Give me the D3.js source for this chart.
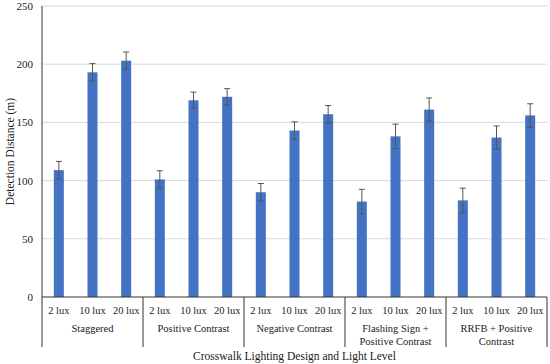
<!DOCTYPE html>
<html>
<head>
<meta charset="utf-8">
<script src="https://cdn.jsdelivr.net/npm/d3@7"></script>
<style>
body { margin: 0; background: #fff; }
svg, text, tspan { font-family: "Liberation Serif", "Times New Roman", serif; }
text { fill: #222; }
</style>
</head>
<body>
<svg id="vis" width="550" height="364"></svg>
<script>
var groups = [["Staggered"], ["Positive Contrast"], ["Negative Contrast"], ["Flashing Sign +", "Positive Contrast"], ["RRFB + Positive", "Contrast"]];
var levels = ["2 lux", "10 lux", "20 lux"];
var means = [
	[109, 193, 203],
	[101, 169, 172],
	[90, 143, 157],
	[82, 138, 161],
	[83, 137, 156]
];
var errs = [
	[7.5, 7.5, 7.5],
	[7.5, 7, 7],
	[7.5, 7.5, 7.5],
	[10.5, 10.5, 10],
	[10.5, 10, 10]
];
var yTicks = [0, 50, 100, 150, 200, 250];

var svg = d3.select("#vis");
var plotLeft = 42, plotRight = 547, plotTop = 6, plotBottom = 297, axisEnd = 347;

var x0 = d3.scaleBand().domain(d3.range(groups.length)).range([plotLeft, plotRight]);
var x1 = d3.scaleBand().domain(levels).range([0, x0.bandwidth()]);
var y = d3.scaleLinear().domain([0, 250]).range([plotBottom, plotTop]);
var barW = 10;

// gridlines
svg.selectAll("line.grid")
	.data(yTicks.slice(1))
	.enter()
	.append("line")
	.attr("x1", plotLeft).attr("x2", plotRight)
	.attr("y1", d => y(d)).attr("y2", d => y(d))
	.style("stroke", "#d9d9d9");

// y tick labels
svg.selectAll("text.ytick")
	.data(yTicks)
	.enter()
	.append("text")
	.attr("x", plotLeft - 9)
	.attr("y", d => y(d) + 4)
	.attr("text-anchor", "end")
	.style("font-size", "11px")
	.text(d => d);

var flat = [];
means.forEach((row, g) => row.forEach((v, i) => flat.push({g: g, lvl: levels[i], v: v, e: errs[g][i]})));
var cx = d => x0(d.g) + x1(d.lvl) + x1.bandwidth() / 2;

svg.selectAll("rect.bar")
	.data(flat)
	.enter()
	.append("rect")
	.attr("x", d => cx(d) - barW / 2)
	.attr("y", d => y(d.v))
	.attr("width", barW)
	.attr("height", d => y(0) - y(d.v))
	.style("fill", "#4472c4");

// error bars
var eb = svg.selectAll("g.err").data(flat).enter().append("g")
	.attr("transform", d => "translate(" + cx(d) + ",0)");
eb.append("line")
	.attr("y1", d => y(d.v + d.e)).attr("y2", d => y(d.v - d.e))
	.style("stroke", "#555");
eb.append("line")
	.attr("x1", -3).attr("x2", 3)
	.attr("y1", d => y(d.v + d.e)).attr("y2", d => y(d.v + d.e))
	.style("stroke", "#555");
eb.append("line")
	.attr("x1", -3).attr("x2", 3)
	.attr("y1", d => y(d.v - d.e)).attr("y2", d => y(d.v - d.e))
	.style("stroke", "#555");

// axis lines
svg.append("line").attr("x1", plotLeft).attr("x2", plotRight).attr("y1", plotBottom).attr("y2", plotBottom)
	.style("stroke", "#333");
svg.append("line").attr("x1", plotLeft).attr("x2", plotLeft).attr("y1", plotTop).attr("y2", axisEnd)
	.style("stroke", "#333");
svg.selectAll("line.sep")
	.data(d3.range(groups.length))
	.enter()
	.append("line")
	.attr("x1", d => x0(d) + x0.bandwidth()).attr("x2", d => x0(d) + x0.bandwidth())
	.attr("y1", plotBottom).attr("y2", axisEnd)
	.style("stroke", "#333");

// lux labels
svg.selectAll("text.lux")
	.data(flat)
	.enter()
	.append("text")
	.attr("x", cx)
	.attr("y", 314)
	.attr("text-anchor", "middle")
	.style("font-size", "10.5px")
	.text(d => d.lvl);

// group labels
var gl = svg.selectAll("text.grp")
	.data(groups)
	.enter()
	.append("text")
	.attr("y", 332)
	.attr("text-anchor", "middle")
	.style("font-size", "10.5px");
gl.selectAll("tspan")
	.data((d, i) => d.map(s => ({s: s, g: i})))
	.enter()
	.append("tspan")
	.attr("x", d => x0(d.g) + x0.bandwidth() / 2)
	.attr("dy", (d, i) => i === 0 ? 0 : 12.5)
	.text(d => d.s);

// axis titles
svg.append("text")
	.attr("transform", "translate(14," + ((plotTop + plotBottom) / 2) + ") rotate(-90)")
	.attr("text-anchor", "middle")
	.style("font-size", "11.5px")
	.text("Detection Distance (m)");

svg.append("text")
	.attr("x", (plotLeft + plotRight) / 2)
	.attr("y", 360)
	.attr("text-anchor", "middle")
	.style("font-size", "11.5px")
	.text("Crosswalk Lighting Design and Light Level");
</script>
</body>
</html>
